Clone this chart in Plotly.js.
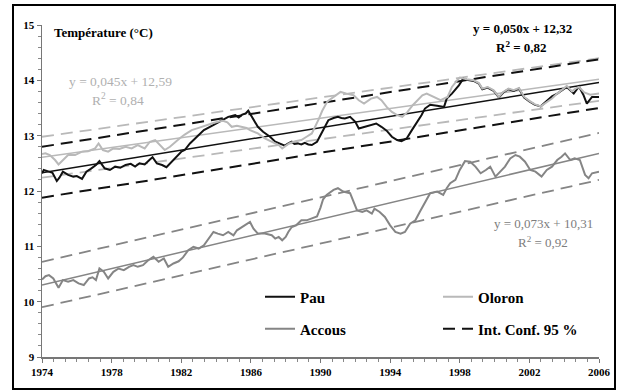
<!DOCTYPE html>
<html>
<head>
<meta charset="utf-8">
<script src="https://cdn.plot.ly/plotly-3.0.1.min.js"></script>
<style>html,body{margin:0;padding:0;background:#fff}#chart{width:623px;height:391px}</style>
</head>
<body>
<div id="chart"></div>
<script>
// ---- Data ----
const pauYears = [1974.0,1974.1,1974.4,1974.6,1974.85,1975.0,1975.2,1975.5,1975.8,1976.0,1976.3,1976.55,1976.8,1977.1,1977.3,1977.6,1977.9,1978.2,1978.5,1978.8,1979.1,1979.35,1979.6,1979.9,1980.2,1980.35,1980.6,1980.9,1981.15,1981.45,1981.75,1982.0,1982.2,1982.5,1982.9,1983.3,1983.65,1984.0,1984.4,1984.7,1985.1,1985.3,1985.5,1985.7,1985.85,1986.15,1986.4,1986.7,1987.1,1987.4,1987.7,1987.95,1988.2,1988.35,1988.5,1988.7,1988.9,1989.1,1989.3,1989.5,1989.8,1990.0,1990.2,1990.45,1990.75,1991.0,1991.2,1991.4,1991.7,1992.0,1992.2,1992.55,1992.95,1993.2,1993.5,1993.8,1994.1,1994.4,1994.65,1994.95,1995.25,1995.5,1995.8,1996.0,1996.3,1996.7,1997.1,1997.25,1997.55,1997.95,1998.2,1998.4,1998.8,1999.1,1999.3,1999.6,1999.95,2000.25,2000.5,2000.8,2001.1,2001.4,2001.7,2002.0,2002.3,2002.65,2003.0,2003.3,2003.6,2003.85,2004.15,2004.55,2004.85,2005.1,2005.3,2005.6,2006.0];
const pauTemp = [12.32,12.38,12.35,12.33,12.18,12.24,12.35,12.29,12.26,12.27,12.22,12.35,12.40,12.47,12.54,12.41,12.38,12.44,12.42,12.47,12.49,12.44,12.50,12.48,12.57,12.61,12.50,12.47,12.43,12.53,12.64,12.71,12.74,12.86,12.98,13.10,13.16,13.22,13.28,13.34,13.37,13.33,13.38,13.40,13.45,13.28,13.16,13.07,12.98,12.89,12.85,12.82,12.87,12.89,12.85,12.86,12.84,12.87,12.84,12.83,12.89,13.01,13.15,13.28,13.32,13.34,13.32,13.31,13.34,13.25,13.13,13.16,13.19,13.22,13.16,13.09,12.98,12.92,12.90,12.95,13.10,13.22,13.37,13.49,13.56,13.54,13.52,13.67,13.76,13.91,14.03,14.01,13.99,13.94,13.84,13.87,13.81,13.69,13.78,13.84,13.81,13.85,13.69,13.62,13.56,13.53,13.62,13.71,13.76,13.82,13.88,13.76,13.89,13.74,13.58,13.70,13.70];

const oloronYears = [1974.0,1974.2,1974.45,1974.75,1974.95,1975.2,1975.5,1975.9,1976.3,1976.65,1977.05,1977.25,1977.5,1977.8,1978.1,1978.45,1978.8,1979.15,1979.5,1979.9,1980.2,1980.5,1980.8,1981.05,1981.35,1981.65,1981.9,1982.2,1982.6,1983.0,1983.4,1983.75,1984.1,1984.4,1984.65,1984.9,1985.2,1985.5,1985.75,1985.95,1986.4,1986.8,1987.2,1987.6,1987.8,1988.2,1988.55,1988.9,1989.2,1989.5,1989.9,1990.1,1990.4,1990.75,1991.15,1991.5,1991.9,1992.2,1992.5,1992.9,1993.25,1993.5,1993.8,1994.1,1994.4,1994.7,1995.0,1995.3,1995.55,1995.85,1996.1,1996.5,1996.9,1997.3,1997.55,1997.85,1998.0,1998.4,1998.8,1999.1,1999.3,1999.6,1999.95,2000.25,2000.5,2000.8,2001.1,2001.4,2001.7,2002.0,2002.3,2002.65,2003.0,2003.3,2003.6,2003.85,2004.15,2004.45,2004.65,2004.85,2005.15,2005.5,2006.0];
const oloronTemp = [12.67,12.68,12.65,12.56,12.48,12.56,12.65,12.65,12.71,12.72,12.77,12.86,12.74,12.71,12.77,12.76,12.80,12.77,12.83,12.77,12.89,12.92,12.83,12.74,12.80,12.89,12.95,13.02,13.10,13.14,13.19,13.22,13.25,13.27,13.24,13.16,13.18,13.16,13.14,13.10,13.04,12.95,12.89,12.83,12.77,12.86,12.90,12.92,12.98,13.04,13.30,13.45,13.62,13.70,13.79,13.76,13.73,13.64,13.58,13.67,13.70,13.64,13.52,13.43,13.37,13.34,13.43,13.55,13.64,13.73,13.76,13.70,13.64,13.70,13.88,14.00,14.05,14.02,14.00,13.95,13.85,13.88,13.82,13.70,13.79,13.85,13.82,13.86,13.70,13.63,13.57,13.53,13.61,13.67,13.76,13.82,13.90,13.80,13.85,13.88,13.78,13.74,13.76];

const accousYears = [1974.0,1974.2,1974.4,1974.65,1974.95,1975.2,1975.5,1975.8,1976.1,1976.4,1976.7,1976.9,1977.1,1977.3,1977.55,1977.8,1978.1,1978.4,1978.7,1979.0,1979.25,1979.5,1979.8,1980.1,1980.4,1980.7,1981.0,1981.25,1981.55,1981.85,1982.1,1982.4,1982.7,1983.0,1983.3,1983.6,1983.85,1984.1,1984.4,1984.7,1985.0,1985.2,1985.5,1985.75,1985.95,1986.15,1986.4,1986.8,1987.2,1987.4,1987.6,1987.8,1988.0,1988.15,1988.35,1988.6,1988.9,1989.2,1989.5,1989.8,1990.0,1990.15,1990.35,1990.75,1991.0,1991.3,1991.7,1991.9,1992.1,1992.4,1992.65,1992.95,1993.1,1993.4,1993.7,1994.0,1994.3,1994.6,1994.85,1995.15,1995.45,1995.7,1996.0,1996.3,1996.7,1997.05,1997.25,1997.45,1997.75,1998.0,1998.3,1998.6,1998.9,1999.2,1999.5,1999.75,2000.05,2000.3,2000.6,2000.9,2001.2,2001.45,2001.75,2002.05,2002.35,2002.7,2003.0,2003.3,2003.6,2003.85,2004.05,2004.35,2004.6,2004.9,2005.2,2005.4,2005.6,2006.0];
const accousTemp = [10.40,10.46,10.48,10.42,10.25,10.39,10.36,10.39,10.33,10.30,10.42,10.44,10.39,10.60,10.54,10.42,10.54,10.60,10.57,10.63,10.66,10.63,10.66,10.75,10.81,10.72,10.78,10.63,10.69,10.73,10.80,10.93,10.99,10.96,11.02,11.14,11.26,11.23,11.20,11.26,11.20,11.29,11.35,11.41,11.44,11.32,11.23,11.23,11.20,11.14,11.17,11.11,11.17,11.26,11.35,11.38,11.47,11.47,11.50,11.54,11.70,11.85,11.93,12.02,12.05,11.99,11.96,11.81,11.65,11.62,11.65,11.59,11.68,11.62,11.53,11.38,11.26,11.23,11.26,11.41,11.47,11.62,11.78,11.96,11.99,11.93,12.05,12.14,12.20,12.38,12.54,12.53,12.44,12.32,12.38,12.44,12.26,12.35,12.44,12.59,12.65,12.62,12.53,12.38,12.35,12.26,12.38,12.44,12.56,12.62,12.68,12.56,12.59,12.56,12.29,12.23,12.32,12.35];

// Trend lines and 95 % confidence bounds (values at the start and end of the period)
const trendYears = [1974, 2006];
const pauTrend = [12.33, 13.96];
const pauUpper = [12.80, 14.38];
const pauLower = [11.88, 13.50];
const oloronTrend = [12.61, 14.02];
const oloronUpper = [12.98, 14.40];
const oloronLower = [12.24, 13.63];
const accousTrend = [10.30, 12.68];
const accousUpper = [10.72, 13.05];
const accousLower = [9.90, 12.20];

const seriesNames = ['Pau', 'Oloron', 'Accous', 'Int. Conf. 95 %'];
const equations = ['y = 0,050x + 12,32', 'y = 0,045x + 12,59', 'y = 0,073x + 10,31'];
const r2Values = ['0,82', '0,84', '0,92'];
const xTickVals = [1974, 1978, 1982, 1986, 1990, 1994, 1998, 2002, 2006];
const yTickVals = [9, 10, 11, 12, 13, 14, 15];

// ---- Styles ----
const BLACK = '#111111', LIGHT = '#b9b9b9', MID = '#858585';
const serif = 'Liberation Serif, Times New Roman, serif';

function lineTrace(x, y, color, width, dash, extra) {
  return Object.assign({x: x, y: y, type: 'scatter', mode: 'lines',
    line: {color: color, width: width, dash: dash || 'solid'},
    showlegend: false, hoverinfo: 'skip'}, extra || {});
}

const traces = [
  lineTrace(trendYears, oloronUpper, LIGHT, 1.8, '12px,7px'),
  lineTrace(trendYears, oloronLower, LIGHT, 1.8, '12px,7px'),
  lineTrace(trendYears, accousUpper, MID, 1.8, '12px,7px'),
  lineTrace(trendYears, accousLower, MID, 1.8, '12px,7px'),
  lineTrace(trendYears, pauUpper, BLACK, 2, '12px,7px', {name: seriesNames[3], showlegend: true, legend: 'legend4'}),
  lineTrace(trendYears, pauLower, BLACK, 2, '12px,7px'),
  lineTrace(trendYears, oloronTrend, LIGHT, 1.5),
  lineTrace(trendYears, accousTrend, MID, 1.5),
  lineTrace(trendYears, pauTrend, BLACK, 1.5),
  lineTrace(pauYears, pauTemp, BLACK, 2, 'solid', {name: seriesNames[0], showlegend: true, legend: 'legend'}),
  lineTrace(oloronYears, oloronTemp, LIGHT, 2, 'solid', {name: seriesNames[1], showlegend: true, legend: 'legend2'}),
  lineTrace(accousYears, accousTemp, MID, 2, 'solid', {name: seriesNames[2], showlegend: true, legend: 'legend3'})
];

const L = 42, R = 24, T = 25, B = 34, W = 623, H = 391;
const pw = W - L - R, ph = H - T - B;
const px = v => (v - L) / pw;
const py = v => (H - B - v) / ph;

function legendAt(xpx, ypx) {
  return {x: px(xpx), y: py(ypx), xanchor: 'left', yanchor: 'middle',
    bgcolor: 'rgba(0,0,0,0)', borderwidth: 0, itemwidth: 30,
    font: {family: serif, size: 15, color: '#000', weight: 'bold'}};
}

function ann(text, xpx, ypx, color, bold, size, xanchor) {
  return {text: bold ? '<b>' + text + '</b>' : text, x: px(xpx), y: py(ypx), xref: 'paper', yref: 'paper',
    xanchor: xanchor || 'center', yanchor: 'middle', showarrow: false,
    font: {family: serif, size: size, color: color}};
}

const layout = {
  width: W, height: H,
  margin: {l: L, r: R, t: T, b: B, pad: 0},
  paper_bgcolor: '#fff', plot_bgcolor: '#fff',
  showlegend: true,
  xaxis: {range: [1974, 2006], tickvals: xTickVals, ticktext: xTickVals.map(String),
    showgrid: false, zeroline: false, showline: true, linecolor: '#777', linewidth: 1.5,
    ticks: 'outside', ticklen: 4, tickcolor: '#777', tickwidth: 1,
    minor: {dtick: 2/3, tick0: 1974, ticks: 'outside', ticklen: 3, tickcolor: '#888', showgrid: false},
    tickfont: {family: serif, size: 11, color: '#000', weight: 'bold'}},
  yaxis: {range: [9, 15], tickvals: yTickVals, ticktext: yTickVals.map(String),
    showgrid: false, zeroline: false, showline: true, linecolor: '#777', linewidth: 1.5,
    ticks: 'outside', ticklen: 4, tickcolor: '#777', tickwidth: 1,
    minor: {dtick: 0.2, tick0: 9, ticks: 'outside', ticklen: 3, tickcolor: '#888', showgrid: false},
    tickfont: {family: serif, size: 11, color: '#000', weight: 'bold'}},
  legend: legendAt(260, 297),
  legend2: legendAt(438, 297),
  legend3: legendAt(260, 329),
  legend4: legendAt(438, 329),
  annotations: [
    ann('Température (°C)', 52, 32, '#000', true, 13, 'left'),
    ann(equations[0], 522, 28.5, '#000', true, 13),
    ann('R<sup>2</sup> = ' + r2Values[0], 521, 46.5, '#000', true, 13),
    ann(equations[1], 120.5, 81.5, '#b0b0b0', false, 13.5),
    ann('R<sup>2</sup> = ' + r2Values[1], 118, 99, '#b0b0b0', false, 13.5),
    ann(equations[2], 543, 223, '#7d7d7d', false, 13),
    ann('R<sup>2</sup> = ' + r2Values[2], 543, 242.5, '#7d7d7d', false, 13)
  ],
  shapes: [
    {type: 'rect', xref: 'paper', yref: 'paper', x0: px(13), x1: px(615), y0: py(389), y1: py(5),
     line: {color: '#000', width: 2}, fillcolor: 'rgba(0,0,0,0)', layer: 'above'}
  ]
};

Plotly.newPlot('chart', traces, layout, {staticPlot: true, displayModeBar: false});
</script>
</body>
</html>
